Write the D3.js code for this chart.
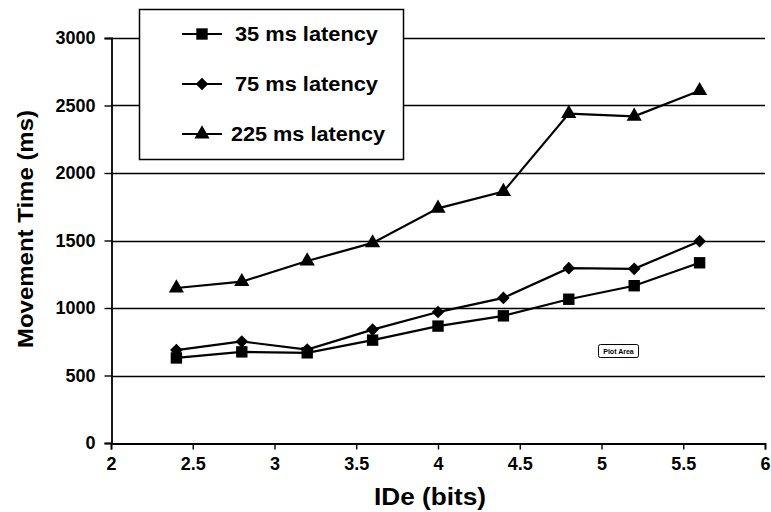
<!DOCTYPE html>
<html>
<head>
<meta charset="utf-8">
<script src="https://cdn.jsdelivr.net/npm/d3@7"></script>
<style>
  html, body { margin: 0; padding: 0; background: #fff; }
  svg { display: block; font-family: "Liberation Sans", Arial, sans-serif; }
</style>
</head>
<body>
<svg id="chart" width="771" height="512"></svg>
<script>
// Index of difficulty (bits) for each condition
const ideBits = [2.4, 2.8, 3.2, 3.6, 4.0, 4.4, 4.8, 5.2, 5.6];

// Mean movement time (ms) per latency condition
const mt35  = [630, 675, 668, 762, 866, 942, 1065, 1165, 1335];
const mt75  = [688, 752, 692, 840, 970, 1075, 1295, 1290, 1495];
const mt225 = [1148, 1195, 1348, 1482, 1738, 1862, 2440, 2420, 2610];

const seriesNames = ["35 ms latency", "75 ms latency", "225 ms latency"];
const seriesSymbols = ["square", "diamond", "triangle"];

const xTicks = [2, 2.5, 3, 3.5, 4, 4.5, 5, 5.5, 6];
const yTicks = [0, 500, 1000, 1500, 2000, 2500, 3000];

const svg = d3.select("#chart");
const plot = { left: 111, right: 765, top: 38, bottom: 443 };

const x = d3.scaleLinear().domain([2, 6]).range([plot.left, plot.right]);
const y = d3.scaleLinear().domain([0, 3000]).range([plot.bottom, plot.top]);
const crisp = v => Math.round(v) + 0.5;

// Horizontal gridlines
svg.append("g")
  .selectAll("line")
  .data(yTicks.filter(v => v > 0))
  .join("line")
  .attr("x1", plot.left).attr("x2", plot.right)
  .attr("y1", d => crisp(y(d))).attr("y2", d => crisp(y(d)))
  .attr("stroke", "#000").attr("stroke-width", 1.3);

// Axes
const xAxis = svg.append("g")
  .attr("transform", `translate(0,${crisp(plot.bottom)})`)
  .call(d3.axisBottom(x).tickValues(xTicks).tickSize(6).tickPadding(8)
        .tickFormat(d3.format("")));
const yAxis = svg.append("g")
  .attr("transform", `translate(${crisp(plot.left)},0)`)
  .call(d3.axisLeft(y).tickValues(yTicks).tickSize(7).tickPadding(9)
        .tickFormat(d3.format("")));

[xAxis, yAxis].forEach(g => {
  g.select(".domain").attr("stroke", "#000").attr("stroke-width", 1.8);
  g.selectAll(".tick line").attr("stroke", "#000").attr("stroke-width", 1.4);
  g.selectAll(".tick text")
    .attr("fill", "#000")
    .style("font-size", "18px")
    .style("font-weight", "bold")
    .style("font-family", "'Liberation Sans', Arial, sans-serif");
});

// Axis titles
svg.append("text")
  .attr("x", 430).attr("y", 505)
  .attr("text-anchor", "middle")
  .attr("textLength", 112).attr("lengthAdjust", "spacingAndGlyphs")
  .style("font-size", "23px").style("font-weight", "bold")
  .text("IDe (bits)");
svg.append("text")
  .attr("transform", `translate(33,229) rotate(-90)`)
  .attr("text-anchor", "middle")
  .attr("textLength", 238).attr("lengthAdjust", "spacingAndGlyphs")
  .style("font-size", "22px").style("font-weight", "bold")
  .text("Movement Time (ms)");

// Marker shapes
const diamond = {
  draw(ctx, size) {
    const r = Math.sqrt(size / 2);
    ctx.moveTo(0, -r); ctx.lineTo(r, 0); ctx.lineTo(0, r); ctx.lineTo(-r, 0); ctx.closePath();
  }
};
const symbolType = {
  square: d3.symbolSquare,
  diamond: diamond,
  triangle: d3.symbolTriangle
};
const symbolSize = { square: 130, diamond: 80, triangle: 100 };

const series = [mt35, mt75, mt225].map((vals, i) => ({
  name: seriesNames[i],
  symbol: seriesSymbols[i],
  points: ideBits.map((b, j) => ({ x: b, y: vals[j] }))
}));

const line = d3.line().x(d => x(d.x)).y(d => y(d.y));

const sg = svg.append("g").selectAll("g").data(series).join("g");
sg.append("path")
  .attr("d", d => line(d.points))
  .attr("fill", "none").attr("stroke", "#000").attr("stroke-width", 2.2);
sg.each(function (s) {
  d3.select(this).selectAll("path.mark")
    .data(s.points)
    .join("path")
    .attr("class", "mark")
    .attr("transform", d => `translate(${x(d.x)},${y(d.y)})`)
    .attr("d", d3.symbol().type(symbolType[s.symbol]).size(symbolSize[s.symbol]))
    .attr("fill", "#000");
});

// Legend
const legend = svg.append("g");
legend.append("rect")
  .attr("x", 139.5).attr("y", 9.5).attr("width", 264).attr("height", 150)
  .attr("fill", "#fff").attr("stroke", "#000").attr("stroke-width", 1.5);
const legRows = [34, 84, 134];
const legWidths = [143, 143, 154];
series.forEach((s, i) => {
  const ly = legRows[i];
  legend.append("line")
    .attr("x1", 182).attr("x2", 222).attr("y1", ly).attr("y2", ly)
    .attr("stroke", "#000").attr("stroke-width", 2);
  legend.append("path")
    .attr("transform", `translate(202,${ly})`)
    .attr("d", d3.symbol().type(symbolType[s.symbol]).size(symbolSize[s.symbol]))
    .attr("fill", "#000");
  legend.append("text")
    .attr("x", i === 2 ? 231 : 235).attr("y", ly + 7)
    .attr("textLength", legWidths[i]).attr("lengthAdjust", "spacingAndGlyphs")
    .style("font-size", "20px").style("font-weight", "bold")
    .text(s.name);
});

// Small "Plot Area" tag inside the plot
const tag = svg.append("g").attr("transform", "translate(598,344)");
tag.append("rect")
  .attr("x", 0.5).attr("y", 0.5).attr("width", 40).attr("height", 13).attr("rx", 2)
  .attr("fill", "#fff").attr("stroke", "#000").attr("stroke-width", 1);
tag.append("text")
  .attr("x", 20.5).attr("y", 10)
  .attr("text-anchor", "middle")
  .style("font-size", "7px").style("font-weight", "bold")
  .text("Plot Area");
</script>
</body>
</html>
